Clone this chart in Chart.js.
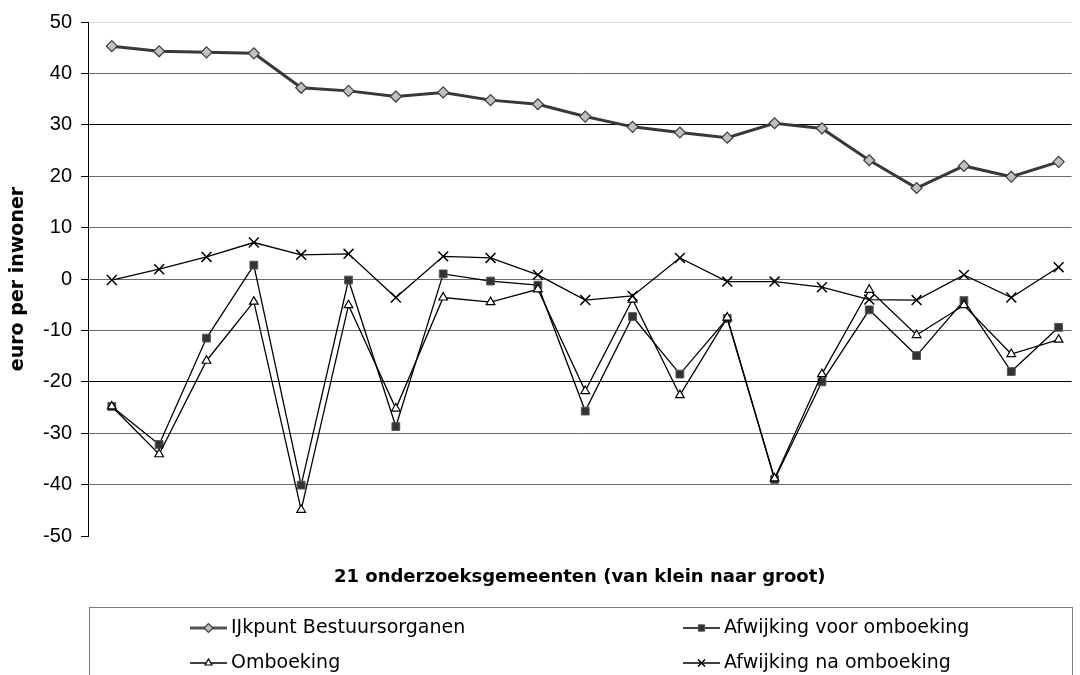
<!DOCTYPE html>
<html>
<head>
<meta charset="utf-8">
<script src="https://cdn.jsdelivr.net/npm/chart.js@4/dist/chart.umd.min.js"></script>
<style>
html,body{margin:0;padding:0;background:#fff;overflow:hidden;}
canvas{display:block;}
</style>
</head>
<body>
<canvas id="c" width="1080" height="675"></canvas>
<script>
// ---- data ----
const gemeenten = [1,2,3,4,5,6,7,8,9,10,11,12,13,14,15,16,17,18,19,20,21];
const ijkpunt   = [45.3,44.3,44.1,43.9,37.2,36.6,35.5,36.3,34.8,34.0,31.6,29.6,28.5,27.5,30.3,29.3,23.1,17.7,22.0,19.9,22.8];
const afwVoor   = [-24.8,-32.2,-11.5,2.7,-40.1,-0.2,-28.7,1.0,-0.4,-1.2,-25.7,-7.3,-18.5,-7.7,-39.0,-20.0,-6.0,-14.9,-4.2,-18.0,-9.4];
const omboeking = [-24.8,-34.1,-15.9,-4.4,-44.9,-5.1,-25.2,-3.6,-4.5,-2.0,-21.8,-4.0,-22.6,-7.5,-38.8,-18.5,-2.1,-10.9,-5.1,-14.6,-11.8];
const afwNa     = [-0.2,1.9,4.3,7.1,4.7,4.9,-3.6,4.4,4.1,0.8,-4.1,-3.3,4.1,-0.5,-0.5,-1.6,-4.0,-4.1,0.8,-3.6,2.3];
const seriesNames = ['IJkpunt Bestuursorganen','Afwijking voor omboeking','Omboeking','Afwijking na omboeking'];
const yTicks = [-50,-40,-30,-20,-10,0,10,20,30,40,50];
const yTitle = 'euro per inwoner';
const xTitle = '21 onderzoeksgemeenten (van klein naar groot)';

const pts = arr => arr.map((v,i) => ({x: gemeenten[i], y: v}));

const styles = [
  {borderColor:'#383838', borderWidth:3, pointStyle:'rectRot', pointRadius:5.5, pointBackgroundColor:'#c0c0c0', pointBorderColor:'#3c3c3c', pointBorderWidth:1.2, order:4},
  {borderColor:'#000', borderWidth:1.3, pointStyle:'rect', pointRadius:5.5, pointBackgroundColor:'#333', pointBorderColor:'#555', pointBorderWidth:1, order:3},
  {borderColor:'#000', borderWidth:1.3, pointStyle:'triangle', pointRadius:5, pointBackgroundColor:'#fff', pointBorderColor:'#000', pointBorderWidth:1.2, order:2},
  {borderColor:'#000', borderWidth:1.3, pointStyle:'crossRot', pointRadius:7, pointBackgroundColor:'#000', pointBorderColor:'#000', pointBorderWidth:1.5, order:1}
];
const allData = [ijkpunt, afwVoor, omboeking, afwNa];

const datasets = allData.map((d,i) => Object.assign({
  label: seriesNames[i], data: pts(d), tension:0, fill:false, pointHoverRadius: styles[i].pointRadius
}, styles[i]));

const legendPlugin = {
  id: 'boxLegend',
  afterDraw(chart) {
    const ctx = chart.ctx;
    const area = chart.chartArea;
    ctx.save();
    // x axis title
    ctx.font = 'bold 18px "DejaVu Sans"';
    ctx.fillStyle = '#000';
    ctx.textAlign = 'center';
    ctx.textBaseline = 'middle';
    ctx.fillText(xTitle, (area.left + area.right) / 2, 577);
    // legend box
    ctx.strokeStyle = '#7a7a7a';
    ctx.lineWidth = 1;
    ctx.strokeRect(89.5, 607.5, 983, 120);
    const cols = [190, 683];
    const rows = [628, 663];
    const order = [0, 1, 2, 3];
    const mini = [
      {pointStyle:'rectRot', radius:4.5},
      {pointStyle:'rect', radius:4.5},
      {pointStyle:'triangle', radius:4},
      {pointStyle:'crossRot', radius:5}
    ];
    order.forEach((di, k) => {
      const s = styles[di];
      const x0 = cols[k % 2], y0 = rows[Math.floor(k / 2)];
      ctx.beginPath();
      ctx.strokeStyle = di === 0 ? '#555' : '#000';
      ctx.lineWidth = di === 0 ? 3 : 1.3;
      ctx.moveTo(x0, y0); ctx.lineTo(x0 + 37, y0);
      ctx.stroke();
      ctx.fillStyle = s.pointBackgroundColor;
      ctx.strokeStyle = s.pointBorderColor;
      ctx.lineWidth = s.pointBorderWidth;
      Chart.helpers.drawPoint(ctx, {pointStyle: mini[di].pointStyle, radius: mini[di].radius, rotation: 0, borderWidth: s.pointBorderWidth}, x0 + 18.5, y0);
      ctx.font = '19px "DejaVu Sans"';
      ctx.fillStyle = '#000';
      ctx.textAlign = 'left';
      ctx.textBaseline = 'middle';
      ctx.fillText(seriesNames[di], x0 + 41, y0);
    });
    ctx.restore();
  }
};

new Chart(document.getElementById('c'), {
  type: 'line',
  data: { datasets },
  options: {
    responsive: false,
    devicePixelRatio: 1,
    animation: false,
    events: [],
    layout: { padding: { top: 22, right: 0, bottom: 139, left: 0 } },
    plugins: { legend: { display: false }, tooltip: { enabled: false } },
    scales: {
      x: {
        type: 'linear', min: 0.497, max: 21.272, display: false
      },
      y: {
        min: -50, max: 50,
        afterFit(scale) { scale.width = 88; },
        afterBuildTicks(scale) { scale.ticks = yTicks.map(v => ({value: v})); },
        ticks: { stepSize: 10, padding: 9, color: '#000', font: { family: '"Liberation Sans", Arial, sans-serif', size: 20 } },
        grid: {
          tickLength: 7,
          tickColor: '#000',
          lineWidth: 1,
          color(ctx) {
            const v = ctx.tick ? ctx.tick.value : 0;
            if (v === -50) return 'rgba(0,0,0,0)';
            if (v === 50) return '#dadada';
            if (v === 30 || v === -20) return '#000';
            return '#6a6a6a';
          }
        },
        border: { display: true, color: '#000', width: 1 },
        title: {
          display: true, text: yTitle, color: '#000',
          font: { family: '"DejaVu Sans"', size: 19, weight: 'bold' },
          padding: { top: 7, bottom: 0 }
        }
      }
    }
  },
  plugins: [legendPlugin]
});
</script>
</body>
</html>
